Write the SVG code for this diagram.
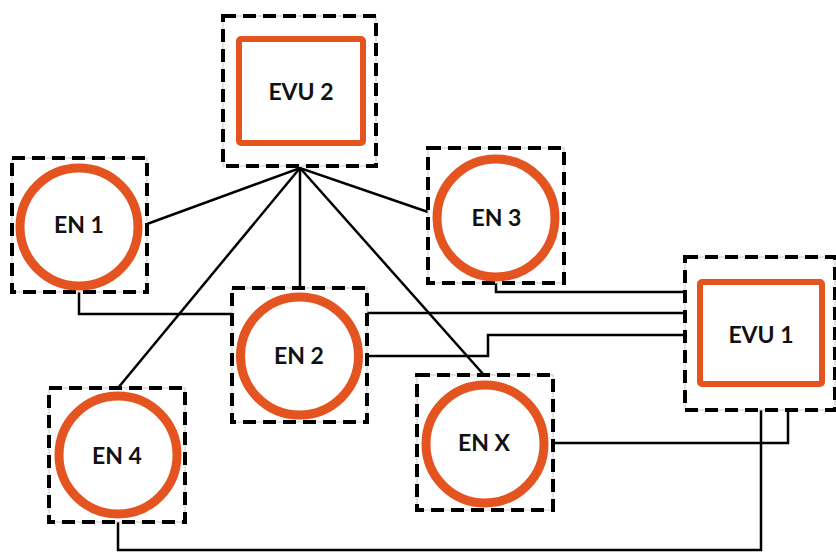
<svg xmlns="http://www.w3.org/2000/svg" width="836" height="553" viewBox="0 0 836 553">
<style>
.frame{fill:none;stroke:#c8c8c8;stroke-width:1}
.dash{fill:none;stroke:#000;stroke-width:4;stroke-dasharray:13 7}
.ring{fill:#fff;stroke:#E35420;stroke-width:9}
.sq{fill:#fff;stroke:#E35420;stroke-width:6}
.lbl{font-family:Lato,"Open Sans","Liberation Sans",sans-serif;font-weight:bold;font-size:23px;fill:#111;text-anchor:middle}
.wire{fill:none;stroke:#000;stroke-width:2.5}
</style>
<rect width="836" height="553" fill="#fff"/>
<g id="connectors">
<polyline class="wire" points="147,224 300,168 428,212"/>
<line class="wire" x1="300" y1="168" x2="300" y2="288"/>
<line class="wire" x1="300" y1="168" x2="118" y2="388"/>
<line class="wire" x1="300" y1="168" x2="484" y2="375"/>
<polyline class="wire" points="79,292 79,314 232,314"/>
<line class="wire" x1="367" y1="313" x2="685" y2="313"/>
<polyline class="wire" points="496,283 496,292 685,292"/>
<polyline class="wire" points="367,356 488,356 488,335 685,335"/>
<polyline class="wire" points="553,443 788,443 788,410"/>
<polyline class="wire" points="118,522 118,550 761,550 761,410"/>
</g>
<g id="evu2">
<rect class="frame" x="223" y="16" width="153" height="150"/>
<rect class="dash" x="223" y="16" width="153" height="150"/>
<rect class="sq" x="239" y="39" width="124" height="104" rx="2"/>
<text class="lbl" x="301" y="100">EVU 2</text>
</g>
<g id="en1">
<rect class="frame" x="12" y="158" width="135" height="134"/>
<rect class="dash" x="12" y="158" width="135" height="134"/>
<circle class="ring" cx="79" cy="227" r="59"/>
<text class="lbl" x="79" y="233">EN 1</text>
</g>
<g id="en3">
<rect class="frame" x="428" y="148" width="136" height="135"/>
<rect class="dash" x="428" y="148" width="136" height="135"/>
<circle class="ring" cx="496" cy="218" r="59"/>
<text class="lbl" x="496.5" y="226">EN 3</text>
</g>
<g id="evu1">
<rect class="frame" x="685" y="257" width="150" height="153"/>
<rect class="dash" x="685" y="257" width="150" height="153"/>
<rect class="sq" x="700" y="282" width="122" height="102" rx="2"/>
<text class="lbl" x="761" y="343">EVU 1</text>
</g>
<g id="en2">
<rect class="frame" x="232" y="288" width="135" height="134"/>
<rect class="dash" x="232" y="288" width="135" height="134"/>
<circle class="ring" cx="299.5" cy="356" r="59"/>
<text class="lbl" x="299" y="364">EN 2</text>
</g>
<g id="enx">
<rect class="frame" x="417" y="375" width="136" height="135"/>
<rect class="dash" x="417" y="375" width="136" height="135"/>
<circle class="ring" cx="485" cy="444" r="59"/>
<text class="lbl" x="484" y="451">EN X</text>
</g>
<g id="en4">
<rect class="frame" x="49" y="388" width="136" height="134"/>
<rect class="dash" x="49" y="388" width="136" height="134"/>
<circle class="ring" cx="118" cy="455" r="59"/>
<text class="lbl" x="117" y="464">EN 4</text>
</g>
</svg>
